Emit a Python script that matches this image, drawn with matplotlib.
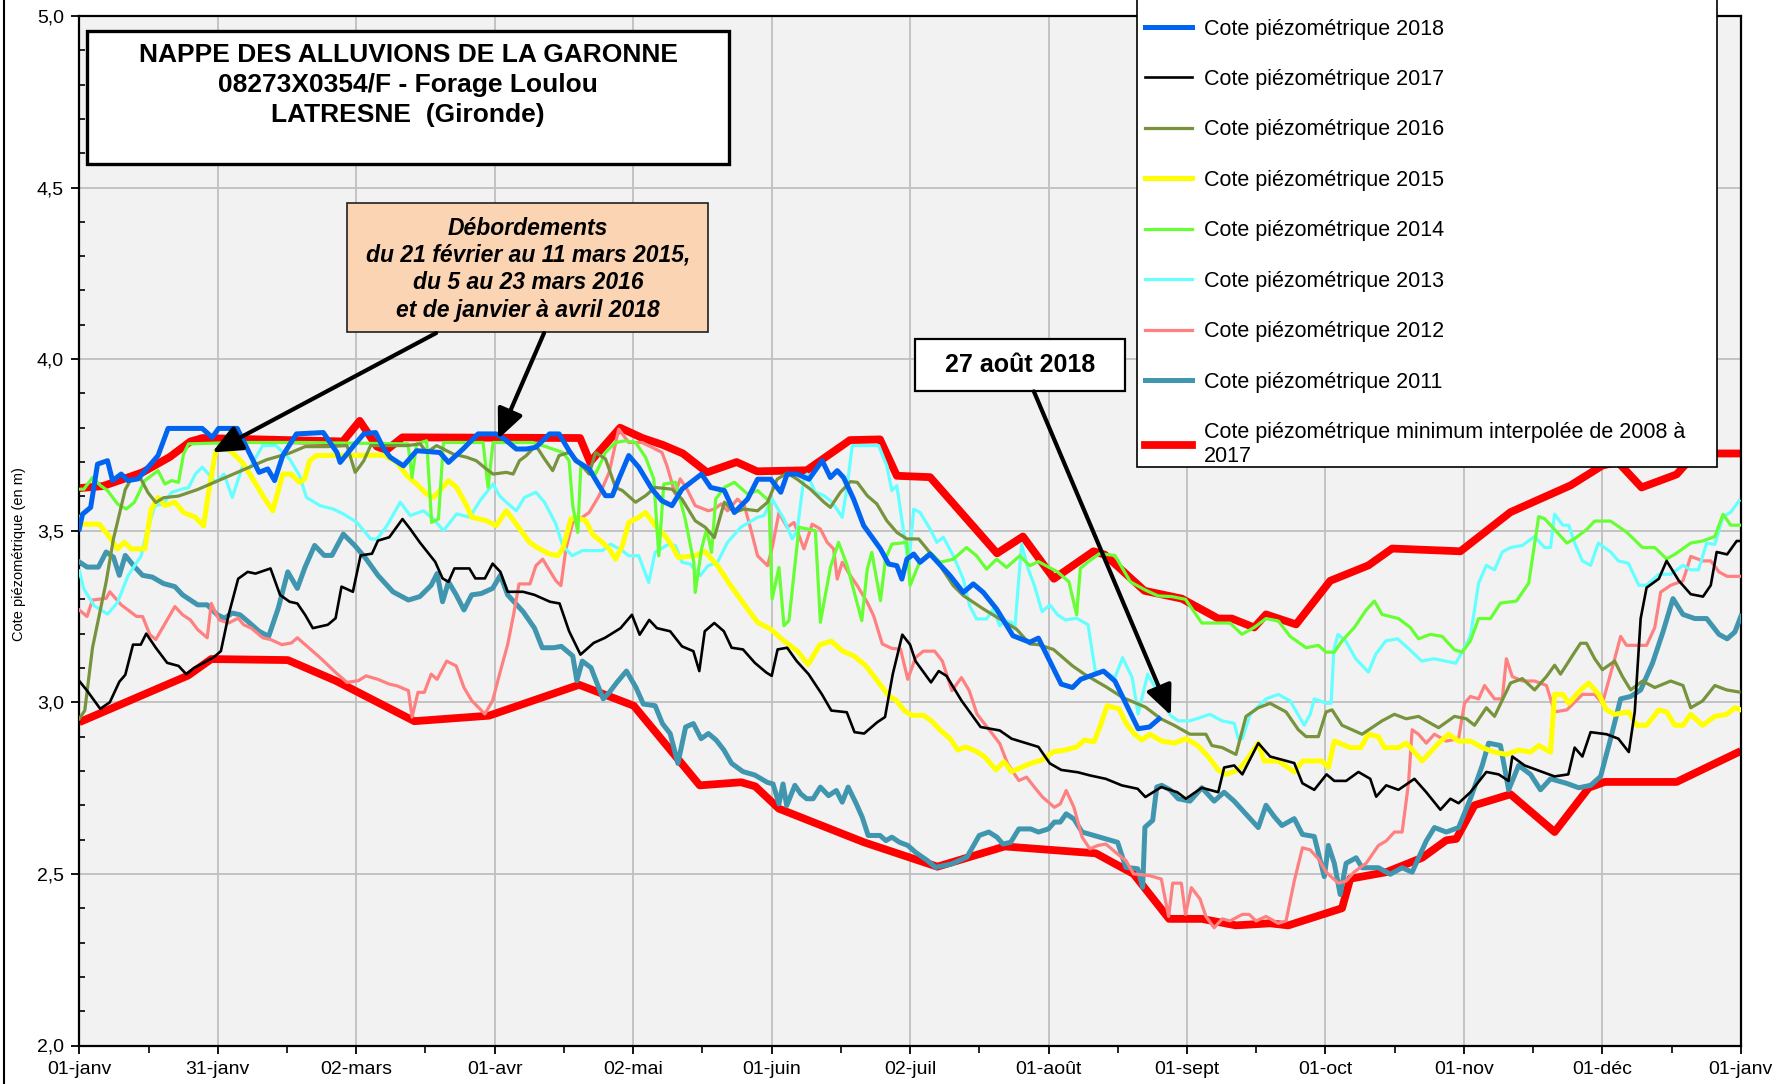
import matplotlib
matplotlib.use('Agg')
import matplotlib.pyplot as plt
from matplotlib.patches import Rectangle
from matplotlib.lines import Line2D
from matplotlib.ticker import FixedLocator, FixedFormatter, MultipleLocator

plt.rcParams['font.family'] = ['Liberation Sans', 'DejaVu Sans']

# ---------------- DATA (day of year, level in m) ----------------
month_labels = ['01-janv', '31-janv', '02-mars', '01-avr', '02-mai', '01-juin', '02-juil',
                '01-août', '01-sept', '01-oct', '01-nov', '01-déc', '01-janv']
y_tick_values = [2.0, 2.5, 3.0, 3.5, 4.0, 4.5, 5.0]
y_tick_labels = ['2,0', '2,5', '3,0', '3,5', '4,0', '4,5', '5,0']

serie_max = [(0, 3.624), (5.2, 3.63), (13.9, 3.67), (19.9, 3.715), (24.4, 3.76), (27.1, 3.77),
             (57.9, 3.76), (61.6, 3.82), (65.4, 3.745), (67.5, 3.735), (71, 3.772), (110, 3.77),
             (112.2, 3.70), (118.8, 3.80), (123.7, 3.77), (128.2, 3.75), (132.6, 3.725), (137.9, 3.67),
             (144.4, 3.70), (148.9, 3.673), (159.8, 3.676), (169.3, 3.764), (175.9, 3.766), (179.6, 3.66),
             (186.9, 3.656), (201.6, 3.434), (207.3, 3.483), (214.1, 3.36), (222.8, 3.44), (225.3, 3.43),
             (234, 3.325), (242.2, 3.302), (250.2, 3.244), (253.2, 3.244), (258.1, 3.218), (260.7, 3.256),
             (267.3, 3.227), (274.8, 3.354), (283.2, 3.399), (288.4, 3.448), (303.4, 3.44), (314.4, 3.554),
             (327.6, 3.632), (334.6, 3.69), (338, 3.70), (343.2, 3.626), (350.9, 3.664), (355, 3.725),
             (365, 3.725)]

serie_min = [(0, 2.942), (23.9, 3.078), (29, 3.126), (45.8, 3.123), (56.3, 3.063), (73.6, 2.945),
             (90, 2.961), (109.8, 3.051), (121.8, 2.99), (136.3, 2.758), (145.4, 2.767), (148.5, 2.755),
             (153.7, 2.69), (172.4, 2.592), (188.5, 2.521), (203.3, 2.58), (223.3, 2.56), (231.6, 2.50),
             (239.4, 2.369), (246.6, 2.369), (254.1, 2.35), (261.6, 2.356), (265.6, 2.35), (277.4, 2.40),
             (279.2, 2.486), (287.1, 2.505), (295, 2.547), (300.3, 2.598), (302.5, 2.602), (306.5, 2.70),
             (314.4, 2.732), (324.1, 2.622), (331.6, 2.751), (335.1, 2.768), (350.9, 2.768), (365, 2.858)]

serie_2018 = [(0, 3.505), (0.7, 3.548), (2.5, 3.568), (4.0, 3.694), (6.2, 3.704), (7.3, 3.646), (9.2, 3.665),
              (10.7, 3.646), (12.9, 3.651), (17.3, 3.719), (19.5, 3.798), (27, 3.798), (29.2, 3.772),
              (30.6, 3.798), (34.7, 3.798), (37.3, 3.728), (39.5, 3.67), (41.4, 3.68), (42.9, 3.646),
              (44.7, 3.719), (47.7, 3.782), (53.6, 3.786), (56.6, 3.728), (57.3, 3.699), (60.3, 3.748),
              (62.5, 3.782), (65.1, 3.786), (66.9, 3.738), (68.3, 3.714), (71.2, 3.689), (74.1, 3.733),
              (79.2, 3.728), (81.1, 3.699), (84.3, 3.738), (87.6, 3.782), (91.6, 3.782), (93.4, 3.767),
              (96, 3.738), (98.2, 3.738), (100.3, 3.743), (103.3, 3.782), (105.4, 3.782), (107.6, 3.733),
              (109.1, 3.704), (112, 3.68), (114.2, 3.631), (115.6, 3.602), (117.1, 3.602), (118.5, 3.65),
              (120.7, 3.719), (122.9, 3.685), (125.8, 3.621), (128, 3.587), (130.2, 3.573), (132.4, 3.621),
              (136.7, 3.665), (138.7, 3.626), (141.7, 3.617), (143.9, 3.553), (146.8, 3.592), (149, 3.65),
              (151.9, 3.65), (154.1, 3.612), (155.5, 3.665), (157.7, 3.665), (160.3, 3.65), (163.2, 3.704),
              (165, 3.655), (166.5, 3.675), (167.9, 3.655), (170.1, 3.592), (172.3, 3.515), (176, 3.447),
              (177.8, 3.403), (179.6, 3.398), (180.7, 3.359), (181.8, 3.417), (183.3, 3.432), (184.7, 3.408),
              (186.9, 3.432), (191.3, 3.369), (194.2, 3.32), (196.4, 3.345), (198.6, 3.32), (201.5, 3.272),
              (205.1, 3.194), (208.8, 3.175), (210.7, 3.187), (215.7, 3.053), (218.2, 3.043), (220, 3.067),
              (225, 3.091), (227.5, 3.062), (232.6, 2.923), (235.1, 2.928), (237.2, 2.952)]

serie_2017 = [(0, 3.062), (1.7, 3.034), (4.6, 2.981), (6.7, 3.0), (8.8, 3.06), (10.1, 3.08), (11.8, 3.168),
              (13.5, 3.168), (14.7, 3.20), (16.8, 3.159), (19.3, 3.115), (21.8, 3.106), (23.5, 3.082),
              (25.2, 3.10), (29.4, 3.13), (31.1, 3.149), (32.8, 3.255), (34.9, 3.36), (37, 3.38),
              (38.7, 3.375), (42, 3.39), (44.1, 3.313), (46.2, 3.293), (47.9, 3.288), (49.6, 3.255),
              (51.3, 3.216), (54.6, 3.226), (56.3, 3.245), (57.6, 3.337), (60.1, 3.322), (61.8, 3.428),
              (64.3, 3.433), (65.6, 3.471), (68.1, 3.481), (71, 3.534), (72.7, 3.505), (74.8, 3.466),
              (78.2, 3.409), (79.8, 3.361), (81.1, 3.351), (82.4, 3.39), (85.7, 3.39), (87, 3.361),
              (89.1, 3.361), (90.8, 3.404), (92.5, 3.38), (94.1, 3.322), (97.5, 3.322), (100, 3.313),
              (103.4, 3.293), (105.5, 3.288), (107.6, 3.207), (110.1, 3.139), (113, 3.173), (115.5, 3.188),
              (118.9, 3.216), (121.4, 3.255), (123.1, 3.197), (125.2, 3.24), (126.9, 3.216), (129.8, 3.207),
              (132.4, 3.163), (134.9, 3.149), (136.2, 3.091), (137.4, 3.207), (139.5, 3.231), (141.6, 3.207),
              (143.3, 3.159), (145.8, 3.154), (148.4, 3.115), (150.9, 3.087), (152.1, 3.077), (153.4, 3.154),
              (155.5, 3.159), (157.6, 3.12), (160.2, 3.082), (163.1, 3.024), (165.2, 2.976), (168.6, 2.971),
              (170.3, 2.913), (172.4, 2.909), (175.3, 2.942), (177, 2.957), (178.7, 3.082), (180.8, 3.197),
              (182.5, 3.168), (183.7, 3.12), (187.1, 3.058), (188.8, 3.091), (190.5, 3.077), (193.8, 3.005),
              (198, 2.928), (202.2, 2.918), (204.8, 2.894), (210.7, 2.87), (213.2, 2.822), (215.7, 2.803),
              (219.4, 2.796), (222, 2.787), (225.5, 2.777), (229, 2.758), (232.5, 2.748), (234.2, 2.724),
              (237.7, 2.753), (241.2, 2.738), (243.1, 2.719), (246.6, 2.751), (250.2, 2.738), (251.5, 2.81),
              (253.7, 2.816), (255.5, 2.79), (259, 2.881), (261.6, 2.842), (266.9, 2.823), (268.7, 2.764),
              (271.3, 2.745), (274, 2.79), (275.7, 2.771), (278.3, 2.771), (281, 2.797), (283.6, 2.777),
              (284.9, 2.725), (287.1, 2.758), (289.8, 2.745), (293.3, 2.777), (295.9, 2.738), (299, 2.687),
              (301.2, 2.719), (303, 2.706), (305.6, 2.738), (309.1, 2.797), (311.8, 2.79), (314, 2.771),
              (314.8, 2.842), (317.5, 2.816), (321.4, 2.797), (324.1, 2.784), (327.1, 2.79), (328.5, 2.868),
              (330.2, 2.842), (332, 2.913), (335.5, 2.907), (338.1, 2.894), (340.4, 2.855), (341.7, 2.972),
              (343, 3.244), (344.3, 3.334), (347, 3.36), (348.7, 3.412), (351.4, 3.354), (354, 3.315),
              (356.7, 3.308), (358.4, 3.341), (359.7, 3.438), (362, 3.431), (364.1, 3.47), (365, 3.47)]

serie_2016 = [(0, 2.952), (1.2, 2.976), (2.9, 3.159), (5.9, 3.351), (7.5, 3.476), (10.1, 3.62), (11.3, 3.649),
              (13.4, 3.654), (15.1, 3.611), (16.8, 3.582), (18.5, 3.596), (21.8, 3.601), (26, 3.62),
              (30.2, 3.644), (35.3, 3.673), (41.2, 3.707), (46.2, 3.726), (49.6, 3.745), (54.6, 3.745),
              (58.8, 3.748), (60.6, 3.67), (61.7, 3.689), (62.5, 3.704), (64, 3.748), (72, 3.748),
              (74.9, 3.753), (76.3, 3.728), (78.5, 3.748), (82.2, 3.723), (85.1, 3.714), (87.2, 3.704),
              (89.4, 3.68), (90.9, 3.665), (93.8, 3.67), (95.3, 3.665), (96.7, 3.704), (98.2, 3.719),
              (100.3, 3.748), (102.2, 3.709), (104, 3.675), (105.4, 3.719), (107.6, 3.728), (109.8, 3.699),
              (112, 3.665), (113.4, 3.728), (115.6, 3.709), (117.8, 3.626), (119.3, 3.617), (122.2, 3.583),
              (124.4, 3.602), (126.5, 3.626), (130.2, 3.621), (132.4, 3.592), (135.3, 3.529), (137.5, 3.51),
              (139.5, 3.48), (141.7, 3.583), (143.9, 3.553), (146, 3.563), (149, 3.558), (151.2, 3.583),
              (153.3, 3.65), (155.5, 3.668), (157.7, 3.65), (160.6, 3.621), (163.6, 3.583), (165, 3.568),
              (167.2, 3.612), (169.4, 3.643), (170.9, 3.641), (173.1, 3.602), (175.2, 3.578), (177.4, 3.529),
              (179.6, 3.495), (181.8, 3.476), (184.4, 3.476), (186.2, 3.447), (189.1, 3.398), (192, 3.34),
              (194.2, 3.311), (198.6, 3.272), (202.2, 3.243), (205.9, 3.213), (208.8, 3.17), (210.7, 3.168),
              (214, 3.154), (218.2, 3.106), (220.8, 3.082), (225.8, 3.043), (229.2, 3.014), (234.2, 2.986),
              (237.6, 2.952), (240.5, 2.933), (244, 2.907), (247.5, 2.907), (248.8, 2.874), (251.1, 2.868),
              (254.1, 2.848), (256.3, 2.959), (259, 2.984), (261.6, 2.997), (265.1, 2.972), (267.8, 2.92),
              (269.5, 2.90), (272.2, 2.90), (273.9, 2.972), (275.2, 2.978), (277.4, 2.933), (281.8, 2.907),
              (286.2, 2.946), (288.9, 2.965), (291.5, 2.952), (294.2, 2.959), (295.9, 2.946), (298.6, 2.926),
              (302.1, 2.959), (304.7, 2.952), (306.5, 2.933), (309.1, 2.984), (310.9, 2.959), (314.4, 3.056),
              (317, 3.069), (319.7, 3.036), (322.3, 3.075), (324.1, 3.108), (325.4, 3.082), (328.5, 3.146),
              (329.8, 3.172), (331.1, 3.172), (332.9, 3.127), (334.6, 3.095), (337.3, 3.12), (339, 3.075),
              (340.8, 3.036), (343.4, 3.062), (346.1, 3.043), (349.6, 3.062), (352.3, 3.049), (354, 2.984),
              (356.6, 3.004), (359.3, 3.049), (361.9, 3.036), (364.6, 3.03)]

serie_2015 = [(0, 3.539), (0.3, 3.519), (4.4, 3.519), (5.5, 3.5), (6.2, 3.49), (8.4, 3.447), (9.9, 3.466),
              (11.4, 3.447), (14.4, 3.447), (15.8, 3.563), (17.3, 3.597), (18.8, 3.573), (21, 3.583),
              (22.9, 3.553), (25.5, 3.539), (27.3, 3.514), (28.4, 3.612), (29.9, 3.728), (31.4, 3.748),
              (33.6, 3.728), (35.8, 3.699), (38.1, 3.651), (40.3, 3.602), (42.5, 3.558), (43.6, 3.612),
              (44.7, 3.665), (46.5, 3.665), (48.4, 3.641), (49.5, 3.651), (50.6, 3.704), (52.1, 3.719),
              (66.9, 3.72), (69.8, 3.699), (72, 3.66), (74.1, 3.636), (76.3, 3.607), (77.8, 3.597),
              (79.2, 3.617), (81.1, 3.646), (82.9, 3.626), (85.1, 3.573), (86.2, 3.539), (88, 3.534),
              (89.4, 3.529), (91.6, 3.515), (93.8, 3.558), (96, 3.519), (98.9, 3.466), (101.1, 3.447),
              (103.3, 3.432), (105.1, 3.427), (106.2, 3.447), (108, 3.534), (109.1, 3.539), (111.3, 3.529),
              (112.7, 3.49), (114.9, 3.466), (116.4, 3.447), (117.8, 3.417), (119.3, 3.456), (120.7, 3.524),
              (122.9, 3.539), (124.4, 3.553), (126.5, 3.515), (128.7, 3.485), (130.2, 3.456), (131.6, 3.422),
              (135.3, 3.427), (137.4, 3.44), (140.2, 3.398), (143.1, 3.34), (146.8, 3.272), (149, 3.233),
              (151.9, 3.213), (154.8, 3.179), (157.7, 3.15), (160.1, 3.11), (162.7, 3.168), (165.2, 3.178),
              (167.7, 3.149), (170.2, 3.135), (172.8, 3.106), (175.3, 3.063), (177.8, 3.019), (179.5, 3.005),
              (181.2, 2.976), (182.9, 2.962), (185.4, 2.962), (187.1, 2.947), (189.2, 2.918), (191.3, 2.894),
              (193, 2.861), (194.7, 2.87), (197.2, 2.856), (198.9, 2.841), (201.4, 2.803), (203.1, 2.827),
              (204.8, 2.798), (206.5, 2.808), (209, 2.822), (211.5, 2.832), (214, 2.856), (216.6, 2.861),
              (219.1, 2.87), (220.8, 2.89), (222.9, 2.885), (224.2, 2.928), (225.8, 2.99), (228.4, 2.981),
              (230, 2.938), (231.7, 2.909), (233.4, 2.89), (235.2, 2.907), (237.8, 2.887), (240.5, 2.881),
              (243.1, 2.894), (245.7, 2.874), (248, 2.842), (250.2, 2.803), (251.9, 2.79), (254.6, 2.803),
              (256.3, 2.829), (259, 2.881), (260.3, 2.829), (263.4, 2.829), (266.9, 2.797), (268.7, 2.829),
              (273, 2.829), (274.4, 2.81), (275.7, 2.887), (279.2, 2.868), (281.5, 2.868), (283.2, 2.907),
              (285.4, 2.90), (286.7, 2.868), (289.8, 2.868), (291.5, 2.881), (293.3, 2.855), (295, 2.829),
              (296.8, 2.855), (298.6, 2.881), (300.8, 2.907), (303, 2.887), (305.6, 2.887), (308.2, 2.868),
              (310.9, 2.855), (313.5, 2.848), (316.2, 2.861), (318.8, 2.855), (320.6, 2.874), (323.2, 2.855),
              (324.1, 3.023), (325.9, 3.023), (327.2, 2.997), (329.8, 3.036), (331.6, 3.056), (333.8, 3.023),
              (335.5, 2.978), (337.3, 2.965), (340.4, 2.972), (342.1, 2.933), (344.3, 2.933), (347, 2.978),
              (348.7, 2.972), (350.5, 2.933), (352.3, 2.933), (354, 2.965), (356.6, 2.933), (359.3, 2.959),
              (361.9, 2.965), (363.7, 2.984), (365, 2.978)]

serie_2014 = [(0, 3.621), (1, 3.621), (2.9, 3.655), (4.7, 3.631), (6.2, 3.617), (8.4, 3.578), (10.3, 3.563),
              (12.1, 3.583), (14.4, 3.646), (17.3, 3.675), (18.8, 3.636), (20.3, 3.646), (21.8, 3.641),
              (22.9, 3.723), (24, 3.753), (34.3, 3.757), (49.1, 3.757), (70.6, 3.753), (72.2, 3.753),
              (73.1, 3.655), (74.1, 3.753), (76.3, 3.762), (77.4, 3.524), (78.9, 3.534), (80, 3.757),
              (88.7, 3.757), (89.8, 3.626), (90.9, 3.757), (99.6, 3.757), (101.8, 3.748), (106.2, 3.728),
              (107.6, 3.704), (108.4, 3.573), (109.5, 3.495), (110.2, 3.694), (112, 3.68), (113.4, 3.665),
              (115.6, 3.728), (117.8, 3.757), (120, 3.762), (122.2, 3.757), (124.4, 3.714), (126.2, 3.651),
              (127.3, 3.427), (128.4, 3.636), (131, 3.641), (133.1, 3.534), (135, 3.408), (135.3, 3.32),
              (136.7, 3.447), (137.8, 3.505), (138.9, 3.437), (139.8, 3.592), (141.7, 3.626), (143.9, 3.641),
              (146.8, 3.607), (149, 3.617), (151.5, 3.587), (152.2, 3.301), (153.7, 3.393), (154.8, 3.223),
              (155.9, 3.238), (158.1, 3.51), (161.7, 3.50), (162.8, 3.233), (165, 3.393), (166.8, 3.466),
              (168.7, 3.398), (171.9, 3.238), (173.1, 3.388), (174.1, 3.437), (176, 3.296), (177.1, 3.417),
              (178.5, 3.461), (181.8, 3.466), (182.5, 3.34), (184.7, 3.412), (186.9, 3.437), (189.1, 3.408),
              (192, 3.417), (194.9, 3.451), (197.1, 3.427), (199.3, 3.388), (201.5, 3.417), (203.7, 3.393),
              (206.6, 3.427), (208.8, 3.398), (210.7, 3.41), (214.9, 3.38), (217.4, 3.351), (219.1, 3.255),
              (219.9, 3.39), (221.6, 3.409), (224.1, 3.433), (227.5, 3.428), (230.9, 3.351), (234.2, 3.327),
              (237, 3.31), (240, 3.308), (243, 3.30), (246.6, 3.231), (252.8, 3.231), (255.4, 3.198),
              (258.1, 3.218), (260.7, 3.244), (263.4, 3.237), (266, 3.192), (269.5, 3.159), (272.2, 3.166),
              (273.9, 3.146), (275.7, 3.146), (277.4, 3.179), (280.1, 3.218), (282.7, 3.269), (284.5, 3.295),
              (286.2, 3.256), (289.8, 3.244), (292.4, 3.218), (294.2, 3.185), (296.8, 3.198), (299.4, 3.192),
              (302.1, 3.153), (303.8, 3.146), (305.6, 3.179), (307.4, 3.244), (310, 3.244), (312.2, 3.289),
              (315.7, 3.295), (318.4, 3.347), (320.6, 3.541), (321.9, 3.535), (324.1, 3.503), (326.8, 3.464),
              (328.5, 3.477), (331.1, 3.503), (332.9, 3.528), (336.4, 3.528), (339.9, 3.496), (343.4, 3.451),
              (346.1, 3.451), (348.7, 3.418), (350.5, 3.431), (354, 3.464), (356.6, 3.47), (359.3, 3.483),
              (361.1, 3.548), (362.8, 3.516), (365, 3.516)]

serie_2013 = [(0, 3.383), (1, 3.33), (3.3, 3.281), (6.2, 3.257), (8.4, 3.291), (10.7, 3.369), (13.6, 3.427),
              (14.7, 3.49), (16.6, 3.573), (18.4, 3.578), (20.3, 3.612), (22.5, 3.621), (24, 3.626),
              (25.5, 3.665), (27, 3.685), (28.4, 3.665), (29.9, 3.641), (31.8, 3.665), (33.6, 3.597),
              (35.8, 3.685), (37.3, 3.68), (38.8, 3.714), (40.3, 3.748), (43.2, 3.748), (46.2, 3.709),
              (48.4, 3.66), (49.9, 3.597), (52.9, 3.573), (55.8, 3.563), (58, 3.549), (61, 3.524), (64, 3.476),
              (65.4, 3.476), (67.6, 3.515), (70.5, 3.583), (72.7, 3.544), (75.6, 3.558), (77.8, 3.534),
              (80, 3.50), (82.9, 3.549), (85.8, 3.539), (88, 3.587), (90.9, 3.636), (92.3, 3.602),
              (93.8, 3.583), (96, 3.558), (97.8, 3.597), (100.3, 3.612), (102.2, 3.583), (104.7, 3.519),
              (106.2, 3.456), (108.3, 3.427), (110.5, 3.442), (114.9, 3.442), (116.7, 3.461), (119.3, 3.442),
              (120.7, 3.427), (122.9, 3.427), (125.1, 3.349), (126.5, 3.437), (129.5, 3.461), (131, 3.456),
              (132.4, 3.408), (134.2, 3.403), (136.4, 3.369), (138.1, 3.398), (140.2, 3.408), (142.4, 3.466),
              (145.3, 3.51), (149, 3.539), (150.4, 3.544), (152.2, 3.592), (154.8, 3.534), (156.6, 3.476),
              (157.7, 3.50), (159.2, 3.655), (159.9, 3.665), (161.7, 3.612), (163.6, 3.602), (165.4, 3.583),
              (167.6, 3.539), (168.7, 3.631), (169.8, 3.748), (175.6, 3.748), (177.4, 3.689), (178.5, 3.617),
              (179.6, 3.631), (182.2, 3.398), (183.3, 3.563), (184.7, 3.553), (186.9, 3.505), (188.4, 3.466),
              (189.8, 3.481), (192, 3.427), (194.2, 3.359), (195.6, 3.281), (197.1, 3.243), (199.3, 3.243),
              (200.8, 3.272), (202.2, 3.223), (203.3, 3.238), (204.8, 3.233), (205.5, 3.213), (207, 3.461),
              (208.4, 3.39), (209.8, 3.341), (211.5, 3.264), (213.2, 3.284), (214.9, 3.255), (216.6, 3.24),
              (219.1, 3.245), (221.6, 3.226), (223.3, 3.082), (225, 3.091), (227.5, 3.072), (229.2, 3.13),
              (231.3, 3.072), (232.6, 2.966), (234.7, 3.082), (237.6, 3.014), (239.7, 2.962), (241.4, 2.946),
              (244, 2.946), (248.4, 2.965), (251, 2.946), (253.7, 2.939), (254.6, 2.894), (255.5, 2.894),
              (257.2, 2.965), (260.7, 3.01), (263.4, 3.023), (266, 3.004), (269.1, 2.933), (270.4, 2.965),
              (271.3, 3.01), (274, 2.997), (275, 2.997), (275.6, 3.153), (276.5, 3.198), (278.2, 3.179),
              (280.4, 3.127), (283.2, 3.088), (284.8, 3.14), (287, 3.179), (289.6, 3.185), (292.3, 3.153),
              (294.9, 3.12), (297.6, 3.127), (300.2, 3.12), (302.4, 3.114), (305.6, 3.192), (307.4, 3.347),
              (309.1, 3.399), (310.9, 3.386), (312.6, 3.438), (314.4, 3.451), (317, 3.457), (319.7, 3.483),
              (321.9, 3.451), (323.2, 3.451), (324.1, 3.548), (325.9, 3.516), (327.2, 3.516), (328.5, 3.464),
              (330.2, 3.412), (332, 3.399), (333.7, 3.464), (336.4, 3.438), (338.1, 3.412), (340.3, 3.405),
              (342.6, 3.341), (344.3, 3.341), (347, 3.373), (349.6, 3.373), (352.3, 3.399), (354, 3.386),
              (355.7, 3.386), (357.5, 3.464), (359.3, 3.46), (361.1, 3.541), (362.8, 3.554), (364.6, 3.587)]

serie_2012 = [(0, 3.269), (1.7, 3.25), (2.9, 3.298), (5.9, 3.303), (6.7, 3.322), (9.2, 3.284), (12.6, 3.25),
              (13.9, 3.25), (15.5, 3.197), (16.8, 3.183), (19.3, 3.24), (21, 3.279), (22.7, 3.255),
              (24.4, 3.24), (26, 3.212), (28.1, 3.188), (29, 3.288), (30.7, 3.24), (32.8, 3.231),
              (34.9, 3.245), (36.1, 3.226), (37.8, 3.216), (40.3, 3.188), (42, 3.183), (44.5, 3.168),
              (46.6, 3.173), (47.9, 3.188), (50.4, 3.159), (52.9, 3.13), (56.3, 3.087), (58.8, 3.058),
              (61.3, 3.063), (63, 3.077), (65.6, 3.067), (68.1, 3.053), (69.8, 3.048), (72.3, 3.034),
              (73.1, 2.957), (74.4, 3.029), (75.8, 3.029), (77.3, 3.082), (78.6, 3.067), (80.7, 3.12),
              (82.8, 3.106), (84.5, 3.043), (86.2, 3.005), (89.1, 2.966), (90.8, 3.005), (92.5, 3.091),
              (94.1, 3.168), (95.4, 3.255), (96.6, 3.345), (99, 3.345), (100.3, 3.398), (101.8, 3.417),
              (104.7, 3.354), (105.8, 3.34), (106.9, 3.447), (108.4, 3.524), (110.5, 3.539), (112, 3.553),
              (114.2, 3.602), (116.4, 3.67), (118.5, 3.796), (120.7, 3.757), (123.6, 3.757), (125.8, 3.743),
              (128, 3.728), (129.1, 3.689), (130.9, 3.607), (132, 3.651), (133.5, 3.621), (135.3, 3.573),
              (138.2, 3.558), (139.5, 3.563), (141, 3.578), (142.4, 3.558), (144.6, 3.592), (146.1, 3.573),
              (147.5, 3.505), (149, 3.427), (151.2, 3.398), (152.3, 3.456), (153.7, 3.553), (155.5, 3.51),
              (157, 3.524), (159.2, 3.447), (161, 3.519), (162.8, 3.505), (164.3, 3.466), (165.7, 3.447),
              (166.5, 3.359), (167.6, 3.408), (169.4, 3.369), (170.9, 3.34), (173.1, 3.291), (174.5, 3.252),
              (176.4, 3.17), (178.5, 3.157), (180.4, 3.155), (182, 3.067), (183.7, 3.13), (185.4, 3.149),
              (187.9, 3.149), (189.6, 3.12), (191.7, 3.034), (193.8, 3.072), (195.5, 3.034), (197.2, 2.966),
              (199.7, 2.923), (202.2, 2.88), (203.9, 2.822), (206.4, 2.772), (208.1, 2.782), (209.8, 2.753),
              (211.6, 2.724), (214.2, 2.694), (215.5, 2.704), (216.8, 2.743), (218.5, 2.694), (220.3, 2.607),
              (222, 2.573), (223.8, 2.583), (225.5, 2.587), (228.1, 2.558), (229.9, 2.539), (231.6, 2.50),
              (235.1, 2.495), (237.7, 2.485), (239.3, 2.376), (240.2, 2.473), (242.1, 2.473), (243, 2.382),
              (244.3, 2.46), (246.2, 2.427), (247.5, 2.376), (249.3, 2.343), (251.1, 2.369), (252.8, 2.363),
              (255.5, 2.382), (257, 2.382), (258.5, 2.363), (260.7, 2.376), (263.4, 2.356), (265.1, 2.363),
              (266.9, 2.479), (268.7, 2.576), (270.4, 2.57), (272.2, 2.544), (273.9, 2.505), (276.6, 2.473),
              (278.3, 2.479), (280, 2.505), (282.7, 2.531), (285.4, 2.583), (287.1, 2.596), (288.9, 2.622),
              (290.6, 2.622), (292, 2.764), (292.8, 2.92), (294.2, 2.907), (295.9, 2.881), (297.7, 2.907),
              (300.3, 2.887), (303, 2.894), (304.3, 2.997), (305.6, 3.017), (307.4, 3.01), (308.7, 3.049),
              (310.9, 3.01), (312.6, 3.01), (313.5, 3.127), (314.8, 3.075), (317, 3.062), (319.7, 3.062),
              (322.3, 3.049), (324.1, 2.972), (326.8, 2.978), (330.2, 3.023), (332.9, 3.023), (334.6, 2.997),
              (337.3, 3.127), (338.6, 3.192), (339.9, 3.166), (344.3, 3.166), (346.1, 3.218), (347.4, 3.321),
              (349.6, 3.341), (352.3, 3.354), (354, 3.425), (356.7, 3.412), (358.4, 3.412), (360.2, 3.38),
              (362, 3.367), (365, 3.367)]

serie_2011 = [(0, 3.409), (1.7, 3.394), (4.2, 3.394), (5.9, 3.438), (7.5, 3.423), (8.8, 3.37), (10.1, 3.428),
              (12.2, 3.394), (13.9, 3.37), (16, 3.365), (18.5, 3.346), (21, 3.337), (22.7, 3.313),
              (24.4, 3.298), (26, 3.284), (28.1, 3.284), (30.3, 3.255), (31.9, 3.245), (33.6, 3.26),
              (35.3, 3.255), (37, 3.236), (39.5, 3.207), (41.6, 3.192), (43.7, 3.274), (45.8, 3.38),
              (47.9, 3.332), (49.6, 3.394), (51.7, 3.457), (53.8, 3.428), (55.5, 3.428), (58, 3.49),
              (60.5, 3.457), (63, 3.418), (65.6, 3.37), (68.9, 3.322), (72.3, 3.298), (74.8, 3.308),
              (77.3, 3.341), (78.6, 3.375), (79.8, 3.293), (81.1, 3.351), (82.8, 3.313), (84.5, 3.269),
              (86.2, 3.313), (88.3, 3.317), (90.8, 3.332), (92.5, 3.37), (94.1, 3.313), (97.5, 3.264),
              (100, 3.216), (101.7, 3.159), (104.2, 3.159), (105.9, 3.163), (108.4, 3.135), (109.3, 3.063),
              (110.5, 3.12), (112.4, 3.101), (113.8, 3.053), (115.1, 3.01), (116.5, 3.03), (118.1, 3.058),
              (120.2, 3.091), (122.3, 3.043), (123.9, 2.995), (126.5, 2.99), (128.1, 2.938), (129.8, 2.909),
              (131.5, 2.822), (133.2, 2.928), (134.9, 2.938), (136.6, 2.894), (138.2, 2.909), (139.9, 2.89),
              (141.6, 2.861), (143.3, 2.822), (145.8, 2.798), (148.4, 2.788), (151.1, 2.767), (152.4, 2.762),
              (153.7, 2.704), (154.6, 2.762), (155.4, 2.699), (157.2, 2.758), (158.5, 2.733), (159.8, 2.719),
              (161.2, 2.719), (162.8, 2.753), (164.6, 2.728), (166.3, 2.743), (167.6, 2.709), (168.9, 2.753),
              (170.7, 2.704), (172, 2.665), (173.3, 2.612), (175.9, 2.612), (177.2, 2.597), (178.5, 2.607),
              (180.2, 2.592), (182, 2.583), (183.7, 2.563), (186.3, 2.539), (188.1, 2.519), (191.6, 2.529),
              (195, 2.549), (197.7, 2.612), (199.8, 2.622), (201.6, 2.607), (202.9, 2.587), (204.6, 2.592),
              (206.4, 2.631), (209, 2.631), (210.7, 2.622), (212.9, 2.631), (214.2, 2.651), (215.5, 2.651),
              (216.8, 2.675), (218.5, 2.66), (220.3, 2.622), (222.9, 2.612), (225.5, 2.602), (228.1, 2.592),
              (229.9, 2.519), (232.5, 2.515), (233.6, 2.461), (234.1, 2.636), (235.8, 2.656), (236.7, 2.753),
              (237.8, 2.758), (239.6, 2.745), (241.4, 2.719), (244, 2.712), (246.6, 2.751), (249.3, 2.712),
              (251.5, 2.738), (253.7, 2.712), (256.3, 2.674), (259, 2.635), (260.7, 2.70), (262.5, 2.667),
              (264.2, 2.641), (266.9, 2.661), (268.7, 2.615), (271.3, 2.609), (273.5, 2.492), (274.4, 2.583),
              (275.7, 2.531), (277, 2.44), (278.3, 2.531), (280.5, 2.547), (281.8, 2.518), (285.4, 2.518),
              (288, 2.499), (290.6, 2.518), (292.8, 2.505), (295.9, 2.596), (297.7, 2.635), (300.3, 2.622),
              (303, 2.635), (305.6, 2.719), (308.2, 2.816), (309.6, 2.881), (312.2, 2.874), (314, 2.745),
              (316.2, 2.816), (318.8, 2.79), (321, 2.745), (323.2, 2.777), (326.7, 2.764), (329.4, 2.751),
              (332, 2.758), (334.2, 2.784), (336.4, 2.894), (338.6, 3.01), (340.8, 3.017), (343, 3.036),
              (345.6, 3.114), (347.9, 3.205), (350.1, 3.302), (352.3, 3.256), (354.9, 3.244), (357.5, 3.244),
              (360.2, 3.198), (362, 3.185), (363.7, 3.205), (365, 3.25)]

legend_labels = ['Cote piézométrique 2018', 'Cote piézométrique 2017', 'Cote piézométrique 2016',
                 'Cote piézométrique 2015', 'Cote piézométrique 2014', 'Cote piézométrique 2013',
                 'Cote piézométrique 2012', 'Cote piézométrique 2011',
                 'Cote piézométrique minimum interpolée de 2008 à\n2017']

# ---------------- STYLES ----------------
styles = {
    '2018': dict(color='#0064F0', lw=3.6),
    '2017': dict(color='#000000', lw=1.9),
    '2016': dict(color='#77933C', lw=2.3),
    '2015': dict(color='#FFFF00', lw=3.6),
    '2014': dict(color='#66FF33', lw=2.3),
    '2013': dict(color='#66FFFF', lw=2.3),
    '2012': dict(color='#FF8080', lw=2.3),
    '2011': dict(color='#4196AF', lw=3.6),
    'min': dict(color='#FF0000', lw=5.6),
}
series = {'2018': serie_2018, '2017': serie_2017, '2016': serie_2016, '2015': serie_2015,
          '2014': serie_2014, '2013': serie_2013, '2012': serie_2012, '2011': serie_2011}

W, H = 1777, 1084
fig = plt.figure(figsize=(W / 100, H / 100), dpi=100)
ax_l, ax_r, ax_t, ax_b = 79.3, 1740.8, 15.9, 1045.5
ax = fig.add_axes([ax_l / W, 1 - ax_b / H, (ax_r - ax_l) / W, (ax_b - ax_t) / H])
ax.set_facecolor('#F2F2F2')

# red envelope lines at bottom
for s in (serie_max, serie_min):
    xs, ys = zip(*s)
    ax.plot(xs, ys, color=styles['min']['color'], lw=styles['min']['lw'],
            solid_joinstyle='round', solid_capstyle='butt', zorder=2)

for key in ['2011', '2012', '2013', '2015', '2014', '2016', '2017', '2018']:
    xs, ys = zip(*series[key])
    ax.plot(xs, ys, color=styles[key]['color'], lw=styles[key]['lw'],
            solid_joinstyle='round', zorder=3)

ax.set_xlim(0, 365)
ax.set_ylim(2.0, 5.0)
major_x = [365 * i / 12 for i in range(13)]
minor_x = [365 * (i + 0.5) / 12 for i in range(12)]
ax.xaxis.set_major_locator(FixedLocator(major_x))
ax.xaxis.set_major_formatter(FixedFormatter(month_labels))
ax.xaxis.set_minor_locator(FixedLocator(minor_x))
ax.yaxis.set_major_locator(FixedLocator(y_tick_values))
ax.yaxis.set_major_formatter(FixedFormatter(y_tick_labels))
ax.yaxis.set_minor_locator(MultipleLocator(0.1))
ax.tick_params(axis='both', which='major', labelsize=14, length=6, width=1.3, direction='out', pad=5)
ax.tick_params(axis='x', which='minor', length=5, width=1.2, direction='out')
ax.tick_params(axis='y', which='minor', length=4, width=1.2, direction='in')
ax.grid(True, which='major', color='#C0C0C0', lw=1.3)
ax.set_axisbelow(True)
for sp in ax.spines.values():
    sp.set_color('black')
    sp.set_linewidth(1.6)

fig.text(19 / W, 1 - 554 / H, 'Cote piézométrique (en m)', rotation=90, ha='center', va='center',
         fontsize=10.5)

# left frame line of the chart area
fig.add_artist(Line2D([4 / W, 4 / W], [0, 1], color='black', lw=1.5))


def fx(px):
    return (px - ax_l) / (ax_r - ax_l)


def fy(py):
    return 1 - (py - ax_t) / (ax_b - ax_t)


# Title box
ax.add_patch(Rectangle((fx(87), fy(164)), fx(729) - fx(87), fy(31) - fy(164), transform=ax.transAxes,
                       facecolor='white', edgecolor='black', lw=2.4, zorder=10))
for txt, py in [('NAPPE DES ALLUVIONS DE LA GARONNE', 54.5), ('08273X0354/F - Forage Loulou', 85),
                ('LATRESNE  (Gironde)', 114.5)]:
    ax.text(fx(408), fy(py), txt, transform=ax.transAxes, ha='center', va='center', fontsize=19,
            fontweight='bold', zorder=11)

# Overflow annotation box
ax.add_patch(Rectangle((fx(347), fy(332)), fx(708) - fx(347), fy(203) - fy(332), transform=ax.transAxes,
                       facecolor='#FBD4B4', edgecolor='#202020', lw=1.2, zorder=10))
for txt, py in [('Débordements', 228), ('du 21 février au 11 mars 2015,', 255),
                ('du 5 au 23 mars 2016', 282), ('et de janvier à avril 2018', 310)]:
    ax.text(fx(528), fy(py), txt, transform=ax.transAxes, ha='center', va='center', fontsize=16.5,
            fontweight='bold', fontstyle='italic', zorder=11)

# 27 août 2018 box
ax.add_patch(Rectangle((fx(915), fy(391)), fx(1125) - fx(915), fy(339) - fy(391), transform=ax.transAxes,
                       facecolor='white', edgecolor='black', lw=1.6, zorder=10))
ax.text(fx(1020), fy(365), '27 août 2018', transform=ax.transAxes, ha='center', va='center',
        fontsize=18, fontweight='bold', zorder=11)

arrow_kw = dict(arrowstyle='-|>,head_length=0.9,head_width=0.4', lw=3, color='black',
                mutation_scale=20, shrinkA=0, shrinkB=0)
ax.annotate('', xy=(29.2, 3.728), xytext=(78.4, 4.076), arrowprops=arrow_kw, zorder=12)
ax.annotate('', xy=(92.0, 3.767), xytext=(102.1, 4.076), arrowprops=arrow_kw, zorder=12)
ax.annotate('', xy=(239.8, 2.962), xytext=(209.7, 3.906), arrowprops=arrow_kw, zorder=12)

# Legend frame (top cut off by the figure edge)
fig.add_artist(Rectangle((1137 / W, 1 - 467 / H), (1717 - 1137) / W, 467 / H + 0.05,
                         transform=fig.transFigure, facecolor='white', edgecolor='black', lw=1.2,
                         zorder=4))
handles = [Line2D([], [], **{'color': styles[k]['color'], 'lw': styles[k]['lw']})
           for k in ['2018', '2017', '2016', '2015', '2014', '2013', '2012', '2011', 'min']]
leg = fig.legend(handles, legend_labels, loc='upper left', bbox_to_anchor=(1131.6 / W, 1 - 5.6 / H),
                 bbox_transform=fig.transFigure, frameon=False, fontsize=15.5, labelspacing=1.367,
                 handlelength=2.2, handletextpad=0.55, borderpad=0.6, borderaxespad=0)
leg.set_zorder(6)

fig.savefig('out.png', dpi=100)
